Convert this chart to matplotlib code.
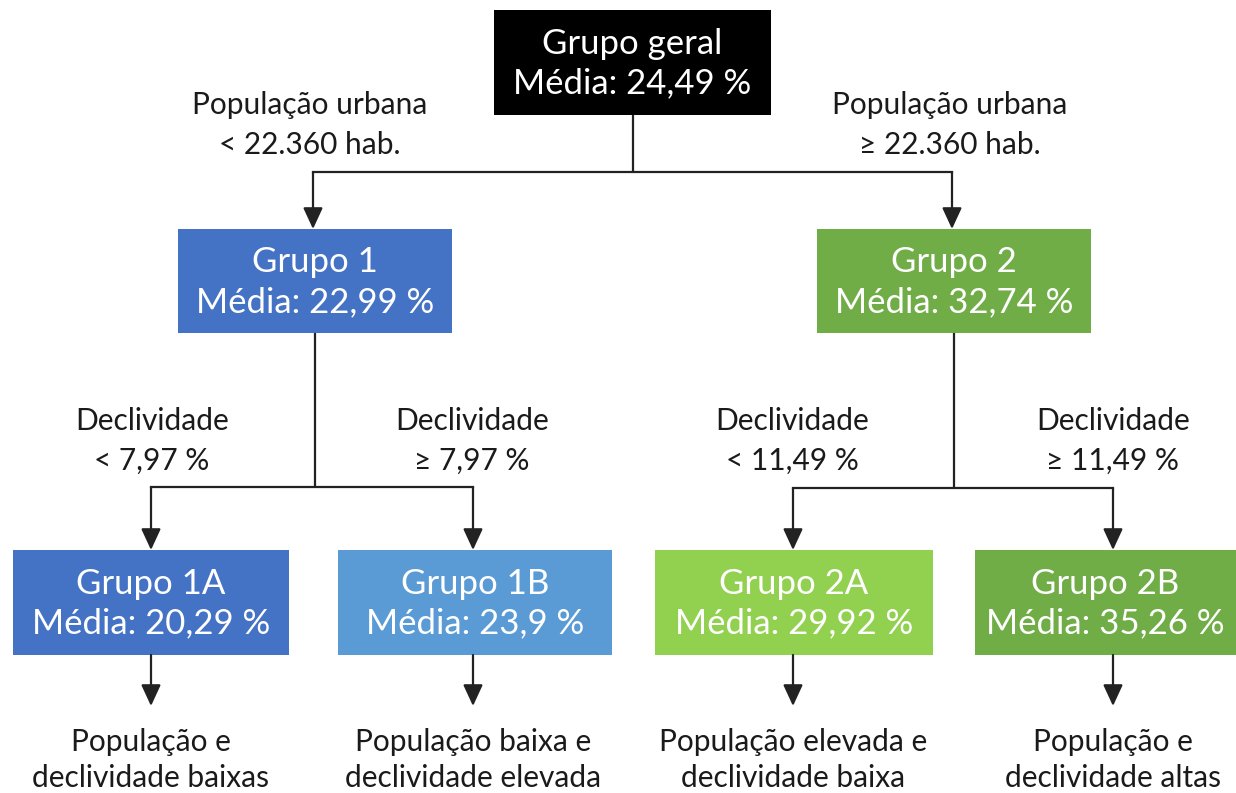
import matplotlib
matplotlib.use("Agg")
import matplotlib.pyplot as plt
from matplotlib.patches import Rectangle, FancyArrowPatch

plt.rcParams['font.family'] = ['Lato', 'DejaVu Sans']

# ---- data ----
group_names = ["Grupo geral", "Grupo 1", "Grupo 2", "Grupo 1A", "Grupo 1B", "Grupo 2A", "Grupo 2B"]
group_means = ["24,49", "22,99", "32,74", "20,29", "23,9", "29,92", "35,26"]
box_colors = ["#000000", "#4472C4", "#70AD47", "#4472C4", "#5B9BD5", "#92D050", "#70AD47"]
parents = [None, 0, 0, 1, 1, 2, 2]
split_labels = ["", "População urbana\n< 22.360 hab.", "População urbana\n≥ 22.360 hab.",
                "Declividade\n< 7,97 %", "Declividade\n≥ 7,97 %",
                "Declividade\n< 11,49 %", "Declividade\n≥ 11,49 %"]
leaf_descriptions = ["População e\ndeclividade baixas", "População baixa e\ndeclividade elevada",
                     "População elevada e\ndeclividade baixa", "População e\ndeclividade altas"]

# ---- layout (pixel coordinates) ----
boxes = [(494, 10, 771, 115), (178, 229, 452, 333), (817, 229, 1091, 333),
         (13, 550, 289, 655), (338, 550, 612, 655), (655, 550, 933, 655), (975, 550, 1236, 655)]
branch_y = {0: 172, 1: 487, 2: 488}
child_x = [None, 313, 952, 151, 473, 793, 1113]
label_pos = [None, (310, 125), (950, 125), (152, 441), (472, 441), (792, 441), (1113, 441)]

W, H = 1236, 793
fig = plt.figure(figsize=(W / 100, H / 100), dpi=100)
ax = fig.add_axes([0, 0, 1, 1])
ax.set_xlim(0, W)
ax.set_ylim(H, 0)
ax.axis('off')

line_color = "#222222"
text_color = "#1a1a1a"
lw = 1.6

def arrow(x, y0, y1):
    a = FancyArrowPatch((x, y0), (x, y1), arrowstyle="-|>,head_length=0.65,head_width=0.3",
                        mutation_scale=20, color=line_color, lw=lw, shrinkA=0, shrinkB=0)
    ax.add_patch(a)

for i, (x0, y0, x1, y1) in enumerate(boxes):
    ax.add_patch(Rectangle((x0, y0), x1 - x0, y1 - y0, facecolor=box_colors[i], edgecolor='none'))
    cx = (x0 + x1) / 2
    cy = (y0 + y1) / 2
    ax.text(cx, cy - 19, group_names[i], ha='center', va='center', color='white', fontsize=25)
    ax.text(cx, cy + 21, f"Média: {group_means[i]} %", ha='center', va='center', color='white', fontsize=25)

# connectors
for p in (0, 1, 2):
    x0, y0, x1, y1 = boxes[p]
    px = (x0 + x1) / 2 if p == 0 else child_x[p] + 2
    by = branch_y[p]
    kids = [i for i, q in enumerate(parents) if q == p]
    ax.plot([px, px], [y1, by], color=line_color, lw=lw, solid_capstyle='butt')
    xs = [child_x[k] for k in kids]
    ax.plot([min(xs), max(xs)], [by, by], color=line_color, lw=lw)
    for k in kids:
        arrow(child_x[k], by, boxes[k][1])
        lx, ly = label_pos[k]
        ax.text(lx, ly, split_labels[k], ha='center', va='center', color=text_color,
                fontsize=21.5, linespacing=1.5)

# leaves
for j, k in enumerate([3, 4, 5, 6]):
    arrow(child_x[k], boxes[k][3], 706)
    ax.text(child_x[k], 760, leaf_descriptions[j], ha='center', va='center', color=text_color,
            fontsize=21.5, linespacing=1.35)

fig.savefig("out.png", dpi=100, facecolor='white')
